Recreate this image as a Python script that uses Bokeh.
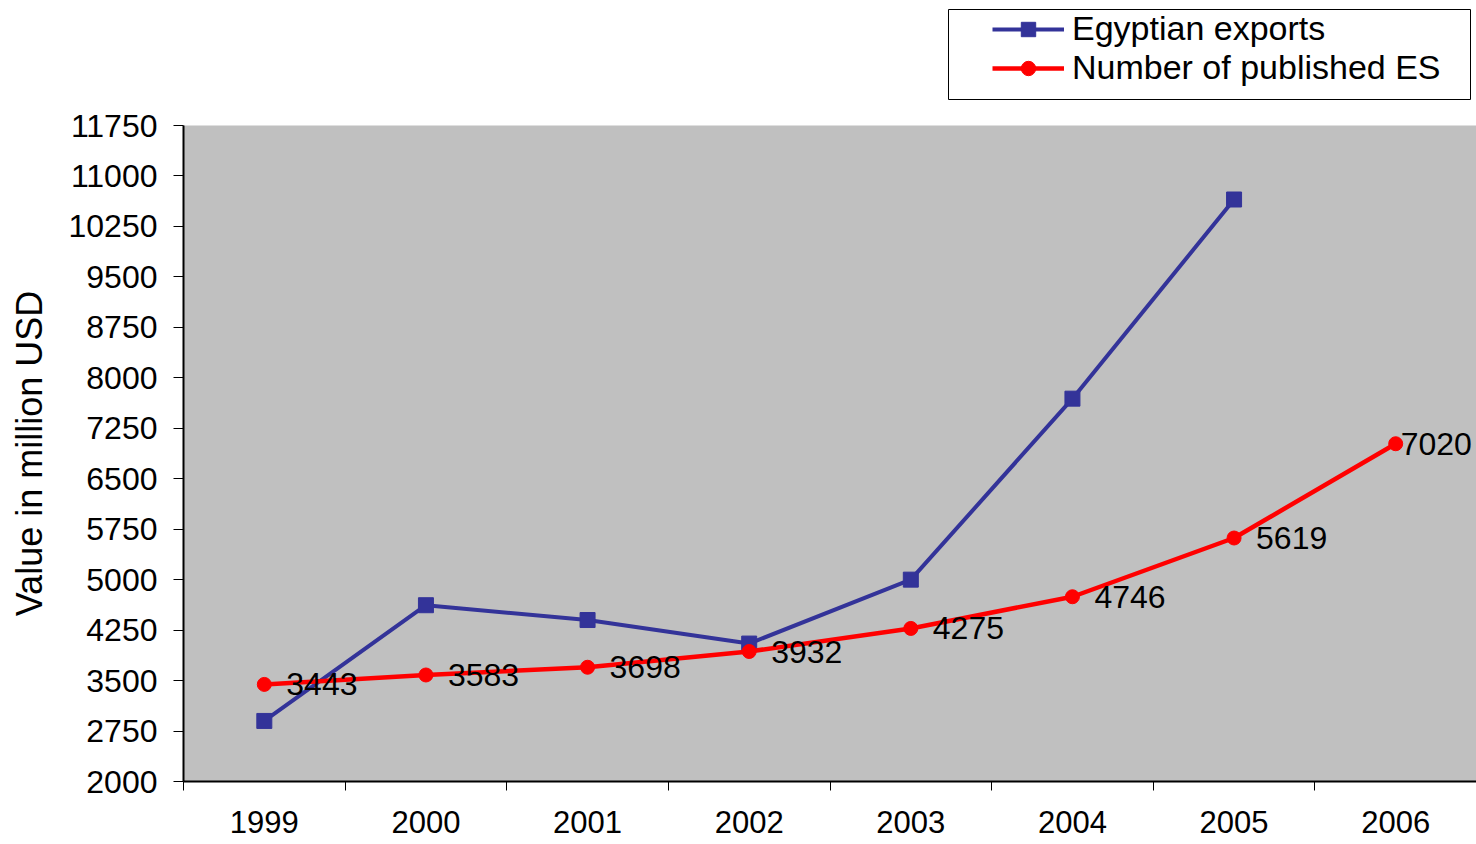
from bokeh.plotting import figure
from bokeh.layouts import column
from bokeh.models import (ColumnDataSource, FixedTicker, LinearAxis, Range1d,
                          Legend, LegendItem, BoxAnnotation)
from bokeh.core.properties import value
from bokeh.embed import file_html
from bokeh.resources import INLINE

years = ["1999", "2000", "2001", "2002", "2003", "2004", "2005", "2006"]
egyptian_exports = [2900, 4620, 4400, 4050, 5000, 7690, 10650, float("nan")]
published_es = [3443, 3583, 3698, 3932, 4275, 4746, 5619, 7020]
y_ticks = [2000, 2750, 3500, 4250, 5000, 5750, 6500, 7250, 8000, 8750,
           9500, 10250, 11000, 11750]

FONT = "Liberation Sans"
BLUE = "#333399"
RED = "#FF0000"
W = 1476
LEFT = 183
LEG_H = 100

xpos = [i + 0.5 for i in range(len(years))]
label_offsets = [22] * (len(years) - 1) + [5]

src = ColumnDataSource(dict(
    x=xpos,
    exports=egyptian_exports,
    es=published_es,
    es_label=[str(v) for v in published_es],
    xoff=label_offsets,
))

# ---------------- main chart ----------------
p = figure(width=W, height=844 - LEG_H, output_backend="svg",
           toolbar_location=None,
           x_range=Range1d(0, len(years)), y_range=Range1d(2000, 11750),
           x_axis_type=None, y_axis_type=None)
p.min_border_left = LEFT
p.min_border_right = 0
p.min_border_top = 25
p.min_border_bottom = 63
p.background_fill_color = "#C0C0C0"
p.border_fill_color = "white"
p.outline_line_color = None

yax = LinearAxis(ticker=FixedTicker(ticks=y_ticks, minor_ticks=[]))
yax.axis_label = "Value in million USD"
yax.axis_label_text_font = FONT
yax.axis_label_text_font_size = "36px"
yax.axis_label_text_font_style = "normal"
yax.axis_label_text_color = "black"
yax.axis_label_standoff = 16
yax.major_label_text_font = FONT
yax.major_label_text_font_size = "32px"
yax.major_label_text_color = "black"
yax.major_label_standoff = 16
yax.major_tick_out = 10
yax.major_tick_in = 0
yax.major_tick_line_color = "black"
yax.minor_tick_line_color = None
yax.axis_line_color = "black"
yax.axis_line_width = 2
p.add_layout(yax, "left")

xax = LinearAxis(ticker=FixedTicker(ticks=xpos,
                                    minor_ticks=list(range(len(years) + 1))))
xax.major_label_overrides = {xp: y for xp, y in zip(xpos, years)}
xax.major_label_text_font = FONT
xax.major_label_text_font_size = "31px"
xax.major_label_text_color = "black"
xax.major_label_standoff = 20
xax.major_tick_out = 9
xax.major_tick_in = 0
xax.major_tick_line_color = None
xax.minor_tick_out = 9
xax.minor_tick_in = 0
xax.minor_tick_line_color = "black"
xax.minor_tick_line_width = 1
xax.axis_line_color = "black"
xax.axis_line_width = 2
p.add_layout(xax, "below")

p.ygrid.ticker = FixedTicker(ticks=y_ticks)
p.ygrid.grid_line_color = "#404040"
p.ygrid.grid_line_width = 1
p.xgrid.visible = False

p.line("x", "exports", source=src, line_color=BLUE, line_width=4)
p.scatter("x", "exports", source=src, marker="square", size=15,
          fill_color=BLUE, line_color=BLUE)
p.line("x", "es", source=src, line_color=RED, line_width=4.5)
p.scatter("x", "es", source=src, marker="circle", size=14,
          fill_color=RED, line_color=RED)

p.text("x", "es", text="es_label", source=src, x_offset="xoff",
       text_baseline="middle", text_align="left", text_color="black",
       text_font=value(FONT), text_font_size="32px")

# ---------------- legend strip (frame aligned with main frame) ----------------
lg = figure(width=W, height=LEG_H, output_backend="svg", toolbar_location=None,
            x_range=Range1d(LEFT, W), y_range=Range1d(0, LEG_H),
            x_axis_type=None, y_axis_type=None)
lg.min_border_left = LEFT
lg.min_border_right = 0
lg.min_border_top = 0
lg.min_border_bottom = 0
lg.outline_line_color = None
lg.xgrid.visible = False
lg.ygrid.visible = False
lg.background_fill_color = "white"

lg.add_layout(BoxAnnotation(left=948, right=1470, bottom=LEG_H - 99,
                            top=LEG_H - 9, fill_color="white", fill_alpha=1,
                            line_color="black", line_width=1, line_alpha=1))

# legend sample glyphs share the data source; the data lie outside this strip's ranges
lbl = lg.line("x", "exports", source=src, line_color=BLUE, line_width=4)
lbm = lg.scatter("x", "exports", source=src, marker="square", size=15,
                 fill_color=BLUE, line_color=BLUE)
lrl = lg.line("x", "es", source=src, line_color=RED, line_width=4.5)
lrm = lg.scatter("x", "es", source=src, marker="circle", size=14,
                 fill_color=RED, line_color=RED)

legend = Legend(items=[
    LegendItem(label="Egyptian exports", renderers=[lbl, lbm]),
    LegendItem(label="Number of published ES", renderers=[lrl, lrm]),
], location=(992 - LEFT, 13))
legend.glyph_width = 72
legend.glyph_height = 36
legend.label_standoff = 8
legend.label_text_font = FONT
legend.label_text_font_size = "34px"
legend.label_text_color = "black"
legend.label_text_baseline = "middle"
legend.padding = 8
legend.spacing = 0
legend.margin = 0
legend.border_line_color = None
legend.background_fill_alpha = 0
lg.add_layout(legend, "center")

layout = column(lg, p, spacing=0)
open("out.html", "w").write(file_html(layout, INLINE))
